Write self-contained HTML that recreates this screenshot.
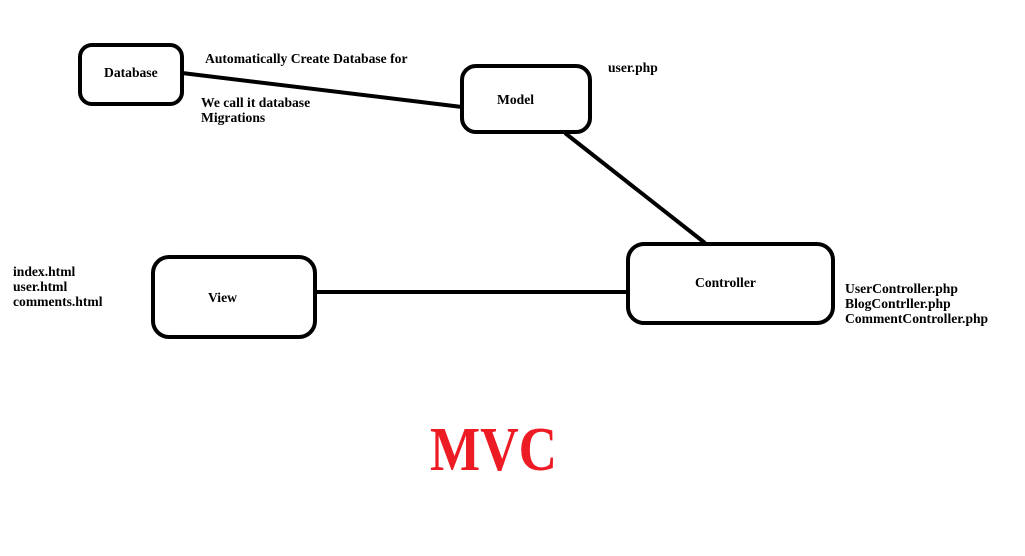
<!DOCTYPE html>
<html><head><style>
body{margin:0;background:#fff;width:1025px;height:551px;overflow:hidden}
svg text{font-family:"Liberation Serif",serif;font-weight:bold;font-size:13.6px;fill:#000}
</style></head><body>
<svg width="1025" height="551" viewBox="0 0 1025 551">
<g fill="none" stroke="#000" stroke-width="4">
<rect x="80" y="45" width="102" height="59" rx="12"/>
<rect x="462" y="66" width="128" height="66" rx="14"/>
<rect x="153" y="257" width="162" height="80" rx="16"/>
<rect x="628" y="244" width="205" height="79" rx="16"/>
<line x1="182" y1="73" x2="462" y2="107"/>
<line x1="565" y1="133" x2="705" y2="243"/>
<line x1="315" y1="292" x2="628" y2="292"/>
</g>
<text x="104" y="77">Database</text>
<text x="205" y="63">Automatically Create Database for</text>
<text x="201" y="107">We call it database</text>
<text x="201" y="122">Migrations</text>
<text x="497" y="104">Model</text>
<text x="608" y="72">user.php</text>
<text x="13" y="276">index.html</text>
<text x="13" y="291">user.html</text>
<text x="13" y="306">comments.html</text>
<text x="208" y="302">View</text>
<text x="695" y="287">Controller</text>
<text x="845" y="293">UserController.php</text>
<text x="845" y="308">BlogContrller.php</text>
<text x="845" y="323">CommentController.php</text>
<text x="430" y="470" textLength="127" lengthAdjust="spacingAndGlyphs" style="font-size:62px;fill:#ed1c24">MVC</text>
</svg>
</body></html>
